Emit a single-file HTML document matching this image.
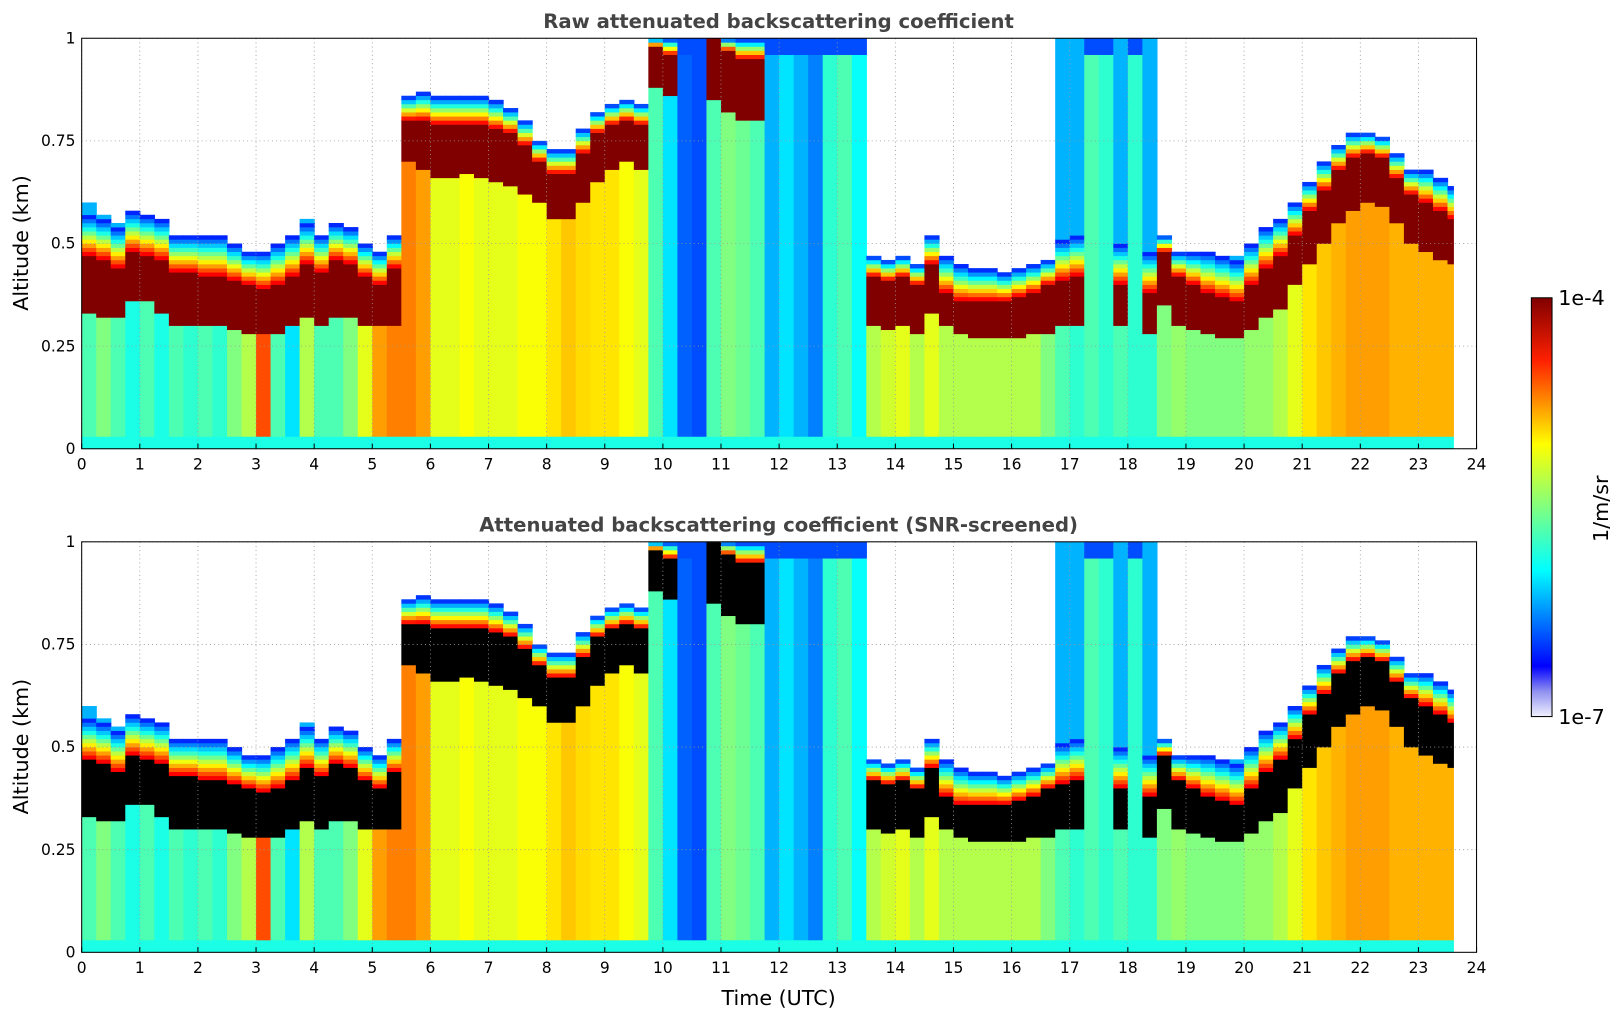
<!DOCTYPE html>
<html><head><meta charset="utf-8"><style>
html,body{margin:0;padding:0;background:#fff;overflow:hidden;width:1621px;height:1020px}
svg{display:block}
svg text{font-family:"DejaVu Sans","Liberation Sans",sans-serif}
</style></head><body>
<svg id="fig" width="1621" height="1020" xmlns="http://www.w3.org/2000/svg">
<defs>
<linearGradient id="cbg" x1="0" y1="1" x2="0" y2="0">
<stop offset="0" stop-color="#f0f0ff"/><stop offset="0.06" stop-color="#9090f0"/>
<stop offset="0.12" stop-color="#0000ff"/><stop offset="0.35" stop-color="#00ffff"/>
<stop offset="0.5" stop-color="#80ff80"/><stop offset="0.65" stop-color="#ffff00"/>
<stop offset="0.85" stop-color="#ff2000"/><stop offset="1" stop-color="#800000"/>
</linearGradient>
</defs>
<g transform="scale(1.034)">
<g id="plots"></g>
<text x="753" y="27" text-anchor="middle" font-size="19" font-weight="bold" fill="#444">Raw attenuated backscattering coefficient</text>
<text x="753" y="514" text-anchor="middle" font-size="19" font-weight="bold" fill="#444">Attenuated backscattering coefficient (SNR-screened)</text>
<text x="753" y="972" text-anchor="middle" font-size="20">Time (UTC)</text>
<text transform="translate(27,235) rotate(-90)" text-anchor="middle" font-size="20">Altitude (km)</text>
<text transform="translate(27,722) rotate(-90)" text-anchor="middle" font-size="20">Altitude (km)</text>
<rect x="1481" y="288" width="20" height="405" fill="url(#cbg)" stroke="#000"/>
<text x="1507" y="295" font-size="20">1e-4</text>
<text x="1507" y="700" font-size="20">1e-7</text>
<text transform="translate(1555,492) rotate(-90)" text-anchor="middle" font-size="20">1/m/sr</text>
</g>
</svg>
<script>
// time bins start (hours), step 0.25
const cloudTop = [.6,.57,.55,.58,.57,.56,.52,.52,.52,.52,.5,.48,.48,.5,.52,.56,.52,.55,.54,.5,.48,.52,.86,.87,.86,.86,.86,.86,.85,.83,.8,.75,.73,.73,.78,.82,.84,.85,.84,1,1,1,1,1,1,1,1,1,1,1,1,1,1,1,.47,.46,.47,.45,.52,.47,.45,.44,.44,.43,.44,.45,.46,1,1,1,1,1,1,1,.52,.48,.48,.48,.47,.47,.5,.54,.56,.6,.65,.7,.74,.77,.77,.76,.72,.68,.68,.66,.64];
const layerTop = [.47,.46,.44,.48,.47,.46,.43,.43,.42,.42,.41,.4,.39,.4,.42,.45,.43,.46,.45,.42,.4,.44,.8,.8,.79,.79,.79,.79,.78,.77,.74,.7,.67,.67,.72,.77,.79,.8,.79,.98,.96,0,0,1,.97,.95,.95,0,0,0,0,0,0,0,.42,.41,.42,.4,.45,.38,.36,.36,.36,.36,.37,.38,.4,.41,.42,0,0,.4,0,.38,.48,.42,.4,.38,.37,.36,.4,.44,.47,.52,.58,.63,.68,.71,.72,.71,.66,.62,.6,.58,.56];
const layerBase = [.33,.32,.32,.36,.36,.33,.3,.3,.3,.3,.29,.28,.28,.28,.3,.32,.3,.32,.32,.3,.3,.3,.7,.68,.66,.66,.67,.66,.65,.64,.62,.6,.56,.56,.6,.65,.68,.7,.68,.88,.86,0,0,.85,.82,.8,.8,0,0,0,0,0,0,0,.3,.29,.3,.28,.33,.3,.28,.27,.27,.27,.27,.28,.28,.3,.3,0,0,.3,0,.28,.35,.3,.29,.28,.27,.27,.29,.32,.34,.4,.45,.5,.55,.58,.6,.59,.55,.5,.48,.46,.45];
const lowLevel = [.45,.5,.45,.4,.45,.4,.45,.42,.45,.42,.5,.55,.8,.45,.35,.55,.45,.45,.5,.6,.72,.75,.75,.72,.6,.6,.62,.6,.6,.6,.62,.62,.65,.68,.66,.65,.65,.62,.6,.45,.35,.22,.2,.45,.5,.48,.45,.3,.35,.3,.25,.42,.45,.38,.55,.58,.6,.55,.6,.55,.55,.55,.55,.55,.55,.55,.5,.45,.42,.45,.42,.45,.42,.42,.5,.52,.5,.5,.5,.5,.52,.52,.55,.6,.65,.68,.7,.72,.72,.72,.7,.7,.7,.7,.7];
const xTicks = [0,1,2,3,4,5,6,7,8,9,10,11,12,13,14,15,16,17,18,19,20,21,22,23,24];
const yTicks = [0,0.25,0.5,0.75,1];
const yTickLabels = ["0","0.25","0.5","0.75","1"];
const STEP=0.25, DATA_END=23.6;

function jet(v){v=Math.max(0,Math.min(1,v));
 const r=Math.max(0,Math.min(1,1.5-Math.abs(4*v-3))),g=Math.max(0,Math.min(1,1.5-Math.abs(4*v-2))),b=Math.max(0,Math.min(1,1.5-Math.abs(4*v-1)));
 return `rgb(${Math.round(r*255)},${Math.round(g*255)},${Math.round(b*255)})`;}
function colorAt(i,z,screened){
 const top=cloudTop[i], lt=layerTop[i], lb=layerBase[i], low=lowLevel[i];
 if(z>top) return null;
 if(z<0.03) return jet(0.4);
 if(lt>0){
  const band=Math.min(top-lt,0.1);
  if(z>=lt+band) return jet(0.3);
  if(z>=lt){const f=(z-lt)/band; return jet(0.92-0.8*f);}
  if(z>=lb) return screened?"#000":"#800000";
  return jet(low);
 }
 if(top-z<0.04) return jet(0.2);
 return jet(low);
}
const NS="http://www.w3.org/2000/svg";
const g=document.getElementById('plots');
function panel(y0,screened,name){
 const x0=79,x1=1428,h=397;
 const xs=t=>x0+(x1-x0)*t/24, ys=z=>y0+h-h*z;
 const grp=document.createElementNS(NS,'g');
 
 
 g.appendChild(grp);
 const dz=0.01;
 for(let i=0;i<cloudTop.length;i++){
  const t0=i*STEP,t1=Math.min((i+1)*STEP,DATA_END);
  let segStart=0,prev=colorAt(i,dz/2,screened);
  for(let k=1;k<=100;k++){
   const c=k<100?colorAt(i,(k+0.5)*dz,screened):'__end';
   if(c!==prev){
    if(prev){
     const r=document.createElementNS(NS,'rect');
     
     
     r.setAttribute('x',xs(t0));r.setAttribute('width',xs(t1)-xs(t0)+0.6);
     r.setAttribute('y',ys(k*dz));r.setAttribute('height',ys(segStart*dz)-ys(k*dz)+0.3);
     r.setAttribute('fill',prev);grp.appendChild(r);
    }
    segStart=k;prev=c;
   }
  }
 }
 xTicks.forEach(t=>{
  const l=document.createElementNS(NS,'line');
  
  
  l.setAttribute('x1',xs(t));l.setAttribute('x2',xs(t));l.setAttribute('y1',y0);l.setAttribute('y2',y0+h);
  l.setAttribute('stroke','#999');l.setAttribute('stroke-dasharray','1,3');l.setAttribute('stroke-width','0.8');grp.appendChild(l);
  const tk=document.createElementNS(NS,'line');
  
  
  tk.setAttribute('x1',xs(t));tk.setAttribute('x2',xs(t));tk.setAttribute('y1',y0+h);tk.setAttribute('y2',y0+h-5);
  tk.setAttribute('stroke','#000');grp.appendChild(tk);
  const tx=document.createElementNS(NS,'text');
  
  
  tx.setAttribute('x',xs(t));tx.setAttribute('y',y0+h+20);tx.setAttribute('text-anchor','middle');tx.setAttribute('font-size','15');
  tx.textContent=t;grp.appendChild(tx);
 });
 yTicks.forEach((z,j)=>{
  const l=document.createElementNS(NS,'line');
  
  
  l.setAttribute('x1',x0);l.setAttribute('x2',x1);l.setAttribute('y1',ys(z));l.setAttribute('y2',ys(z));
  l.setAttribute('stroke','#999');l.setAttribute('stroke-dasharray','1,3');l.setAttribute('stroke-width','0.8');grp.appendChild(l);
  const tx=document.createElementNS(NS,'text');
  
  
  tx.setAttribute('x',x0-6);tx.setAttribute('y',ys(z)+5);tx.setAttribute('text-anchor','end');tx.setAttribute('font-size','15');
  tx.textContent=yTickLabels[j];grp.appendChild(tx);
 });
 const fr=document.createElementNS(NS,'rect');
 
 
 fr.setAttribute('x',x0);fr.setAttribute('y',y0);fr.setAttribute('width',x1-x0);fr.setAttribute('height',h);
 fr.setAttribute('fill','none');fr.setAttribute('stroke','#000');grp.appendChild(fr);
}
panel(37,false,'raw-backscatter-panel');
panel(524,true,'screened-backscatter-panel');
</script>
</body></html>
